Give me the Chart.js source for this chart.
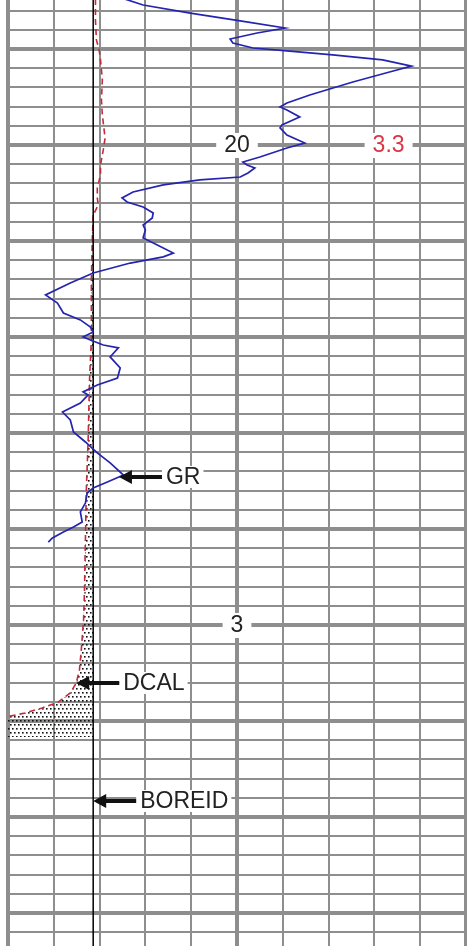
<!DOCTYPE html>
<html>
<head>
<meta charset="utf-8">
<script src="https://cdn.jsdelivr.net/npm/chart.js@4.4.0/dist/chart.umd.min.js"></script>
<style>
  html, body { margin: 0; padding: 0; background: #fff; }
  canvas { display: block; }
</style>
</head>
<body>
<canvas id="logChart" width="467" height="946"></canvas>
<script>
// track runs 0..10 divisions, depth counted in grid rows (heavy line every 5)
const depthTop = 2.45;
const depthBottom = 51.72;
const trackMin = 0;
const trackMax = 10;

const grDepth = [2.40, 2.71, 3.13, 3.54, 3.91, 4.17, 4.48, 4.69, 4.95, 5.10,
    5.31, 5.57, 5.89, 6.20, 6.72, 7.40, 7.81, 8.02, 8.18, 8.54,
    8.96, 9.11, 9.48, 9.90, 10.16, 10.63, 10.89, 11.04, 11.20, 11.46,
    11.67, 11.82, 12.08, 12.45, 12.76, 12.97, 13.23, 13.54, 13.80, 14.17,
    14.43, 14.84, 15.21, 15.63, 15.83, 16.15, 16.67, 17.19, 17.81, 18.23,
    18.75, 19.11, 19.48, 19.74, 20.00, 20.16, 20.42, 20.57, 21.04, 21.61,
    22.14, 22.50, 22.86, 23.02, 23.44, 23.91, 24.32, 24.95, 25.47, 26.04,
    26.56, 27.19, 27.55, 27.86, 28.13, 28.65, 29.11, 29.64, 29.90, 30.16,
    30.47, 30.68];
const grValue = [2.55, 2.95, 3.98, 5.07, 6.05, 5.44, 4.85, 4.91, 5.35, 6.09,
    7.09, 8.18, 8.81, 8.33, 7.53, 6.59, 6.09, 5.94, 6.09, 6.37,
    5.98, 5.94, 6.09, 6.48, 6.09, 5.50, 5.13, 5.22, 5.39, 5.24,
    5.07, 4.19, 3.39, 2.73, 2.49, 2.60, 2.95, 3.17, 3.15, 2.95,
    3.00, 2.95, 3.26, 3.61, 3.39, 2.67, 1.86, 1.36, 0.82, 1.08,
    1.21, 1.58, 1.80, 1.86, 1.64, 1.80, 2.08, 2.41, 2.23, 2.45,
    2.39, 1.95, 1.64, 1.75, 1.58, 1.19, 1.36, 1.43, 1.69, 1.95,
    2.23, 2.52, 2.17, 1.86, 1.73, 1.69, 1.58, 1.62, 1.43, 1.21,
    0.97, 0.88];

const dcalDepth = [2.40, 3.49, 4.53, 5.05, 5.57, 6.61, 7.66, 8.44, 9.64, 10.26,
    11.04, 11.56, 12.24, 12.76, 13.13, 13.65, 14.95, 17.03, 20.16, 22.24,
    25.36, 27.97, 30.57, 33.18, 34.74, 36.30, 37.34, 38.02, 38.54, 39.01,
    39.32, 39.58, 39.74, 39.79, 40.83];
const dcalValue = [1.91, 1.91, 1.93, 1.99, 2.02, 2.06, 2.04, 2.06, 2.12, 2.08,
    2.02, 2.02, 1.95, 1.95, 1.97, 1.86, 1.84, 1.82, 1.82, 1.78,
    1.75, 1.71, 1.69, 1.67, 1.65, 1.60, 1.56, 1.49, 1.36, 1.10,
    0.75, 0.38, 0.05, -0.30, -0.30];

const boreidValue = 1.86;

// scale annotations sitting on the heavy lines
const scaleLabelText = ['20', '3.3', '3'];
const scaleLabelValue = [5, 8.31, 5];
const scaleLabelDepth = [10, 10, 35];

// curve name tags with arrows
const curveNames = ['GR', 'DCAL', 'BOREID'];
const curveLabelDepth = [27.29, 38.02, 44.17];

const toPoints = (depths, values) => depths.map((d, i) => ({ x: values[i], y: d }));

function valueAtDepth(depths, values, d) {
    for (let i = 1; i < depths.length; i++) {
        if (depths[i] >= d) {
            const t = (d - depths[i - 1]) / (depths[i] - depths[i - 1]);
            return values[i - 1] + t * (values[i] - values[i - 1]);
        }
    }
    return values[values.length - 1];
}

// washout part of the caliper (inside the bit size) gets the dotted fill
const split = dcalValue.findIndex(v => v <= boreidValue);
const dcalUpper = toPoints(dcalDepth.slice(0, split + 1), dcalValue.slice(0, split + 1));
const dcalLower = toPoints(dcalDepth.slice(split), dcalValue.slice(split));

const canvas = document.getElementById('logChart');
const ctx = canvas.getContext('2d');

function makeDots() {
    const c = document.createElement('canvas');
    c.width = 4;
    c.height = 8;
    const g = c.getContext('2d');
    g.fillStyle = '#111';
    g.fillRect(0, 0, 1.6, 1.6);
    g.fillRect(2, 4, 1.6, 1.6);
    return ctx.createPattern(c, 'repeat');
}

const labelFont = '23px "Liberation Sans", Arial, sans-serif';
const scaleLabelColor = ['#222222', '#dc3545', '#222222'];

function curveTip(i) {
    const name = curveNames[i];
    if (name === 'GR') return valueAtDepth(grDepth, grValue, curveLabelDepth[i]);
    if (name === 'DCAL') return valueAtDepth(dcalDepth, dcalValue, curveLabelDepth[i]);
    return boreidValue;
}

const logLabels = {
    id: 'logLabels',
    beforeDatasetsDraw(chart) {
        const { ctx, scales: { x, y } } = chart;
        ctx.save();
        ctx.font = labelFont;
        ctx.textBaseline = 'middle';
        ctx.textAlign = 'left';

        scaleLabelText.forEach((text, i) => {
            const px = x.getPixelForValue(scaleLabelValue[i]);
            const py = y.getPixelForValue(scaleLabelDepth[i]);
            const w = ctx.measureText(text).width;
            ctx.fillStyle = '#fff';
            ctx.fillRect(px - w / 2 - 8, py - 12, w + 16, 25);
            ctx.fillStyle = scaleLabelColor[i];
            ctx.fillText(text, px - w / 2, py + 1);
        });

        curveNames.forEach((text, i) => {
            const tip = x.getPixelForValue(curveTip(i));
            const py = y.getPixelForValue(curveLabelDepth[i]);
            const tx = tip + 47;
            const w = ctx.measureText(text).width;
            ctx.fillStyle = '#fff';
            ctx.fillRect(tx - 4, py - 11, w + 7, 22);
            ctx.fillStyle = '#222222';
            ctx.fillText(text, tx, py + 1);
        });
        ctx.restore();
    },
    afterDatasetsDraw(chart) {
        const { ctx, scales: { x, y } } = chart;
        ctx.save();
        ctx.fillStyle = '#111';
        ctx.strokeStyle = '#111';
        ctx.lineWidth = 4;
        curveNames.forEach((text, i) => {
            const tip = x.getPixelForValue(curveTip(i));
            const py = y.getPixelForValue(curveLabelDepth[i]);
            ctx.beginPath();
            ctx.moveTo(tip + 10, py);
            ctx.lineTo(tip + 43, py);
            ctx.stroke();
            ctx.beginPath();
            ctx.moveTo(tip, py);
            ctx.lineTo(tip + 13, py - 7);
            ctx.lineTo(tip + 13, py + 7);
            ctx.closePath();
            ctx.fill();
        });
        ctx.restore();
    }
};

const heavy = (c) => (c.tick && Math.round(c.tick.value) % 5 === 0 ? 4 : 2);

new Chart(ctx, {
    type: 'line',
    data: {
        datasets: [
            {
                label: 'GR',
                data: toPoints(grDepth, grValue),
                borderColor: '#2424b0',
                borderWidth: 1.7,
                pointRadius: 0,
                fill: false
            },
            {
                label: 'BOREID',
                data: [{ x: boreidValue, y: depthTop }, { x: boreidValue, y: depthBottom }],
                borderColor: '#000',
                borderWidth: 1.5,
                pointRadius: 0,
                fill: false
            },
            {
                label: 'DCAL',
                data: dcalUpper,
                borderColor: '#c42a3a',
                borderWidth: 1.6,
                borderDash: [6, 4],
                pointRadius: 0,
                fill: false
            },
            {
                label: 'DCAL washout',
                data: dcalLower,
                borderColor: '#c42a3a',
                borderWidth: 1.6,
                borderDash: [6, 4],
                pointRadius: 0,
                backgroundColor: makeDots(),
                fill: { value: boreidValue }
            }
        ]
    },
    options: {
        indexAxis: 'y',
        responsive: false,
        animation: false,
        events: [],
        layout: { padding: { left: 8, right: 1, top: 0, bottom: 0 } },
        plugins: {
            legend: { display: false },
            tooltip: { enabled: false }
        },
        scales: {
            x: {
                type: 'linear',
                min: trackMin,
                max: trackMax,
                ticks: { display: false, stepSize: 1 },
                border: { display: false },
                grid: { color: '#8e8e8e', lineWidth: heavy, drawTicks: false }
            },
            y: {
                type: 'linear',
                reverse: true,
                min: depthTop,
                max: depthBottom,
                afterBuildTicks: (scale) => {
                    const ticks = [];
                    for (let v = Math.ceil(depthTop); v <= Math.floor(depthBottom); v++) ticks.push({ value: v });
                    scale.ticks = ticks;
                },
                ticks: { display: false },
                border: { display: false },
                grid: { color: '#8e8e8e', lineWidth: heavy, drawTicks: false }
            }
        }
    },
    plugins: [logLabels]
});
</script>
</body>
</html>
